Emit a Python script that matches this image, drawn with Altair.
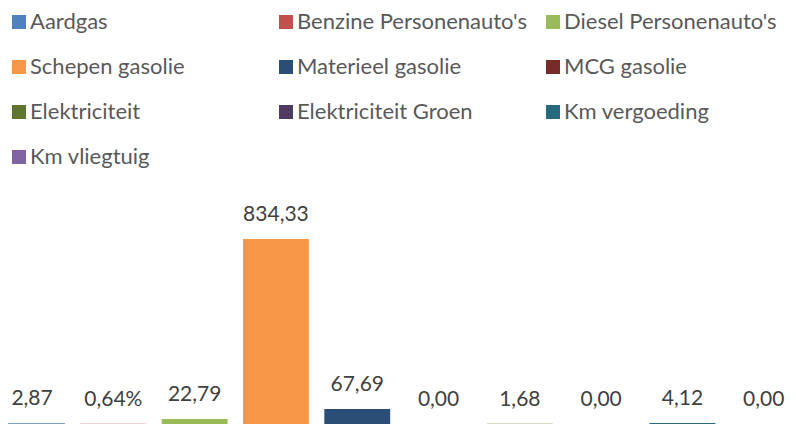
import altair as alt
import pandas as pd

categories = ["Aardgas", "Benzine Personenauto's", "Diesel Personenauto's",
              "Schepen gasolie", "Materieel gasolie", "MCG gasolie",
              "Elektriciteit", "Elektriciteit Groen", "Km vergoeding", "Km vliegtuig"]
values = [2.87, 0.64, 22.79, 834.33, 67.69, 0.00, 1.68, 0.00, 4.12, 0.00]
labels = ["2,87", "0,64%", "22,79", "834,33", "67,69", "0,00", "1,68", "0,00", "4,12", "0,00"]
colors = ["#4F81BD", "#C0504D", "#9BBB59", "#F79646", "#2C4D75",
          "#772C2A", "#5F7530", "#4D3B62", "#276A7C", "#8064A2"]

df = pd.DataFrame({"cat": categories, "value": values, "label": labels})

FONT = "Lato"

x = alt.X("cat:N", sort=categories, axis=None,
          scale=alt.Scale(range=[-16.6, 796.4], round=False,
                          paddingInner=0.19, paddingOuter=0.095))
y = alt.Y("value:Q", axis=None, scale=alt.Scale(domain=[0, 1858], nice=False, zero=True))

color = alt.Color("cat:N", sort=categories,
                  scale=alt.Scale(domain=categories, range=colors),
                  legend=alt.Legend(title=None, orient="none", legendX=0, legendY=-1,
                                    direction="horizontal",
                                    columns=3, gridAlign="all", columnPadding=15,
                                    rowPadding=23, symbolType="square", symbolSize=196,
                                    symbolStrokeWidth=0, labelFontSize=22, labelFont=FONT,
                                    labelColor="#595959", labelOffset=0, labelLimit=500,
                                    padding=0))

bars = alt.Chart(df).mark_bar().encode(x=x, y=y, color=color)
text = alt.Chart(df).mark_text(baseline="alphabetic", dy=-18, fontSize=21, font=FONT,
                               color="#404040").encode(x=x, y=y, text="label:N")

chart = (bars + text).properties(
    width=779, height=412,
    autosize=alt.AutoSizeParams(type="none"),
    padding={"left": 0, "right": 0, "top": 4, "bottom": 0},
).configure_view(stroke=None)

chart.save("out.html", embed_options={"renderer": "svg", "actions": False})
